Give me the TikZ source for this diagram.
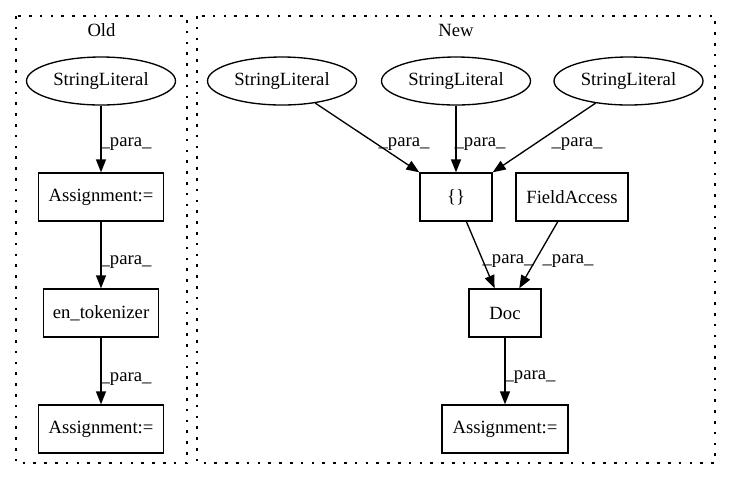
\documentclass[tikz,border=0pt]{standalone}
\usepackage{fontspec}
\setmainfont{Liberation Serif}
\usetikzlibrary{arrows.meta,shapes.geometric}
\begin{document}
\begin{tikzpicture}[x=0.75pt,y=-0.75pt,
  every node/.style={font=\fontsize{14}{16}\selectfont},
  box/.style={draw,line width=1pt,minimum height=36pt,inner sep=0pt},
  oval/.style={draw,ellipse,line width=1pt,minimum width=111.75pt,minimum height=36pt,inner sep=0pt},
  conn/.style={line width=1pt,-{Triangle[length=9.75pt,width=7.5pt]}},
  lbl/.style={anchor=base,inner sep=0pt},
  cluster/.style={draw,line width=0.8pt,dash pattern=on 2pt off 6.1pt}]
\useasboundingbox (0,0) rectangle (731,480);
% clusters
\draw[cluster] (16,16) rectangle (187,463);
\draw[cluster] (197,16) rectangle (715,463);
\node[lbl] (t1) at (101.5,36) {Old};
\node[lbl] (t2) at (456,36) {New};
% Old
\node[oval] (o0) at (101,81) {StringLiteral};
\node[box,minimum width=93.75pt] (o1) at (101,197) {Assignment:=};
\node[box,minimum width=86.25pt] (o2) at (101,313) {en\_tokenizer};
\node[box,minimum width=93.75pt] (o3) at (101,429) {Assignment:=};
\draw[conn] (o0) -- (o1);
\draw[conn] (o1) -- (o2);
\draw[conn] (o2) -- (o3);
\node[lbl] (l1) at (126,146) {\_para\_};
\node[lbl] (l2) at (126,264) {\_para\_};
\node[lbl] (l3) at (126,381) {\_para\_};
% New
\node[oval] (n1) at (282,81) {StringLiteral};
\node[oval] (n2) at (456,81) {StringLiteral};
\node[oval] (n3) at (628.5,81) {StringLiteral};
\node[box,minimum width=54pt] (br) at (456,197) {\{\}};
\node[box,minimum width=84pt] (fa) at (572,197) {FieldAccess};
\node[box,minimum width=54pt] (doc) at (505,313) {Doc};
\node[box,minimum width=94.5pt] (n4) at (505,429) {Assignment:=};
\draw[conn] (n1) -- (br.north west);
\draw[conn] (n2) -- (br);
\draw[conn] (n3) -- (br.north east);
\draw[conn] (br) -- (doc);
\draw[conn] (fa) -- (doc);
\draw[conn] (doc) -- (n4);
\node[lbl] (l4) at (404,146) {\_para\_};
\node[lbl] (l5) at (480,146) {\_para\_};
\node[lbl] (l6) at (577,146) {\_para\_};
\node[lbl] (l7) at (508,263) {\_para\_};
\node[lbl] (l8) at (568,263) {\_para\_};
\node[lbl] (l9) at (530,379) {\_para\_};
\end{tikzpicture}
\end{document}
